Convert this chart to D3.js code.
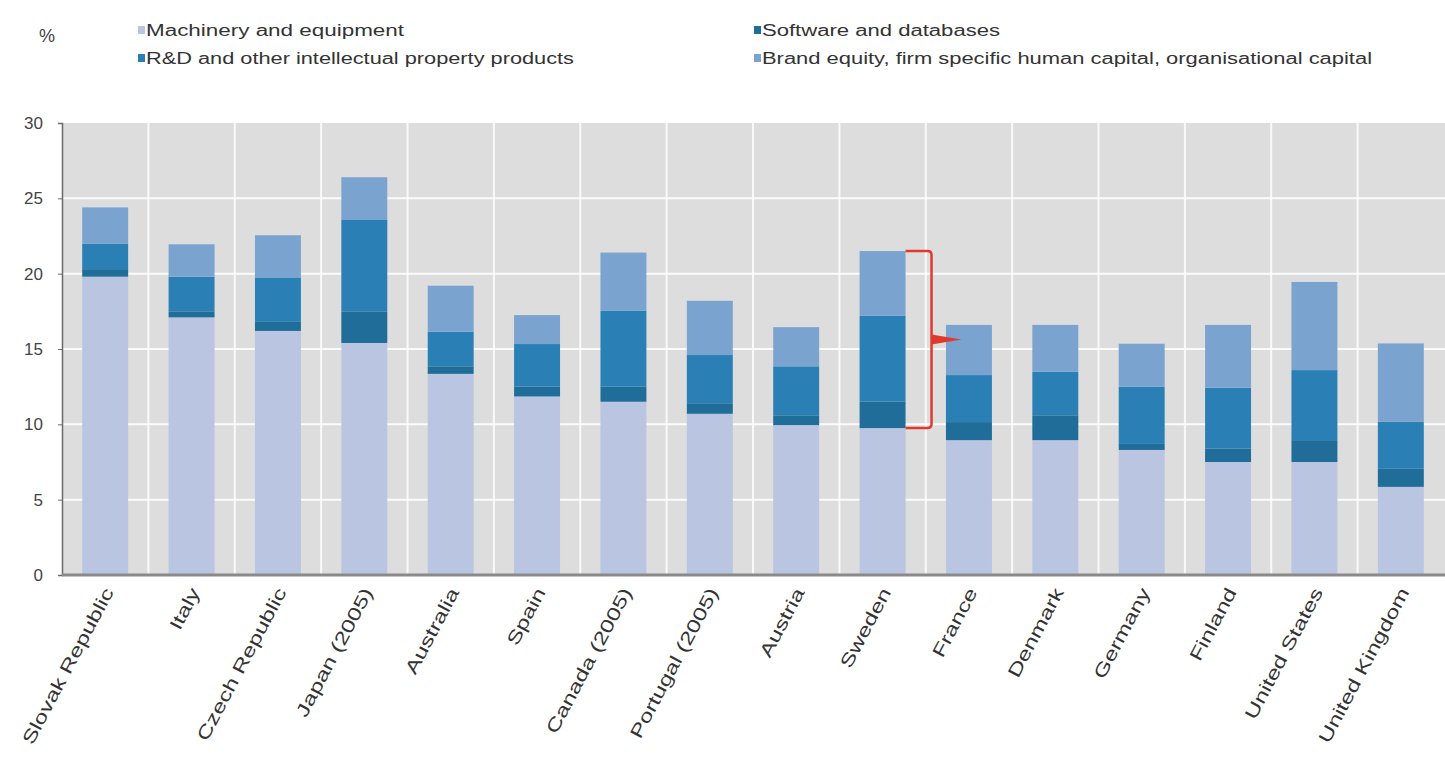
<!DOCTYPE html>
<html>
<head>
<meta charset="utf-8">
<script src="https://cdn.jsdelivr.net/npm/d3@7"></script>
<style>
  html, body { margin: 0; padding: 0; background: #ffffff; }
  svg { display: block; font-family: "Liberation Sans", Arial, sans-serif; }
</style>
</head>
<body>
<svg id="chart" width="1445" height="762"></svg>
<script>
// Investment by asset type, % of value added
const countries = ["Slovak Republic", "Italy", "Czech Republic", "Japan (2005)", "Australia", "Spain",
  "Canada (2005)", "Portugal (2005)", "Austria", "Sweden", "France", "Denmark", "Germany",
  "Finland", "United States", "United Kingdom"];
const machinery = [19.8, 17.1, 16.2, 15.4, 13.35, 11.85, 11.5, 10.7, 9.95, 9.75, 8.95, 8.95, 8.3, 7.5, 7.5, 5.85];
const software  = [0.5, 0.4, 0.6, 2.1, 0.5, 0.65, 1.0, 0.7, 0.65, 1.75, 1.2, 1.65, 0.4, 0.9, 1.45, 1.2];
const rnd       = [1.7, 2.3, 2.95, 6.1, 2.3, 2.83, 5.05, 3.2, 3.25, 5.7, 3.12, 2.9, 3.8, 4.03, 4.65, 3.12];
const brand     = [2.4, 2.15, 2.8, 2.8, 3.05, 1.92, 3.85, 3.6, 2.6, 4.3, 3.33, 3.1, 2.85, 4.17, 5.85, 5.2];
const yTicks = [0, 5, 10, 15, 20, 25, 30];

const seriesKeys = ["machinery", "software", "rnd", "brand"];
const seriesNames = {
  machinery: "Machinery and equipment",
  software: "Software and databases",
  rnd: "R&D and other intellectual property products",
  brand: "Brand equity, firm specific human capital, organisational capital"
};
const colors = {
  machinery: "#b9c5e1",
  software: "#1f6d98",
  rnd: "#2a80b4",
  brand: "#7ba3cf"
};

const rows = countries.map((c, i) => ({
  country: c, machinery: machinery[i], software: software[i], rnd: rnd[i], brand: brand[i]
}));

const svg = d3.select("#chart");
const plotL = 62, plotR = 1444, plotT = 123, plotB = 575;

const x = d3.scaleBand().domain(countries).range([plotL, plotR]).paddingInner(0.468).paddingOuter(0.234);
const xCat = d3.scaleBand().domain(countries).range([plotL, plotR]).padding(0);
const y = d3.scaleLinear().domain([0, 30]).range([plotB, plotT]);

// plot background
svg.append("rect").attr("x", plotL).attr("y", plotT).attr("width", plotR - plotL + 1).attr("height", plotB - plotT)
  .attr("fill", "#dddddd");

// white gridlines
svg.append("g").selectAll("line").data(yTicks.filter(t => t > 0 && t < 30)).join("line")
  .attr("x1", plotL).attr("x2", plotR + 1).attr("y1", d => y(d)).attr("y2", d => y(d))
  .attr("stroke", "#ffffff").attr("stroke-width", 2).attr("opacity", 0.9);
svg.append("g").selectAll("line").data(countries.slice(1)).join("line")
  .attr("x1", d => xCat(d)).attr("x2", d => xCat(d)).attr("y1", plotT).attr("y2", plotB)
  .attr("stroke", "#ffffff").attr("stroke-width", 2).attr("opacity", 0.85);

// stacked bars
const stacked = d3.stack().keys(seriesKeys)(rows);
svg.append("g").selectAll("g").data(stacked).join("g")
  .attr("fill", d => colors[d.key])
  .selectAll("rect").data(d => d).join("rect")
  .attr("x", d => x(d.data.country))
  .attr("width", x.bandwidth())
  .attr("y", d => y(d[1]))
  .attr("height", d => y(d[0]) - y(d[1]));

// axes
const yAxis = svg.append("g").attr("transform", `translate(${plotL},0)`)
  .call(d3.axisLeft(y).tickValues(yTicks).tickSize(4).tickPadding(15));
yAxis.select(".domain").attr("stroke", "#6a6a6a").attr("stroke-width", 1.5);
yAxis.selectAll(".tick line").attr("stroke", "#6a6a6a");
yAxis.selectAll(".tick text").attr("font-size", 17).attr("fill", "#444").attr("font-family", "Liberation Sans, Arial, sans-serif");

svg.append("line").attr("x1", plotL).attr("x2", plotR + 1).attr("y1", plotB).attr("y2", plotB)
  .attr("stroke", "#8a8a8a").attr("stroke-width", 3);

// category labels
svg.append("g").selectAll("text").data(countries).join("text")
  .attr("transform", d => `translate(${x(d) + x.bandwidth() / 2 + 9},${plotB + 17}) rotate(-62) scale(1.35,1)`)
  .attr("text-anchor", "end")
  .attr("font-size", 18)
  .attr("fill", "#333")
  .text(d => d);

// legend
svg.append("text").attr("x", 39).attr("y", 42).attr("font-size", 18).attr("fill", "#444").text("%");
const legendItems = [
  { key: "machinery", x: 138, y: 30, w: 266 },
  { key: "rnd", x: 138, y: 58, w: 436 },
  { key: "software", x: 754, y: 30, w: 246 },
  { key: "brand", x: 754, y: 58, w: 618 }
];
const lg = svg.append("g").selectAll("g").data(legendItems).join("g")
  .attr("transform", d => `translate(${d.x},${d.y})`);
lg.append("rect").attr("x", 0).attr("y", -4).attr("width", 7).attr("height", 8)
  .attr("fill", d => colors[d.key]);
lg.append("text").attr("x", 8).attr("y", 6).attr("font-size", 16).attr("fill", "#333")
  .attr("textLength", d => d.w - 8).attr("lengthAdjust", "spacingAndGlyphs")
  .text(d => seriesNames[d.key]);

// bracket annotation on Sweden
const si = countries.indexOf("Sweden");
const sTop = machinery[si] + software[si] + rnd[si] + brand[si];
const sBot = machinery[si];
const bx0 = x("Sweden") + x.bandwidth();
const bx1 = bx0 + 26;
const yt = y(sTop), yb = y(sBot), ym = (yt + yb) / 2;
svg.append("path")
  .attr("d", `M${bx0},${yt} L${bx1 - 4},${yt} Q${bx1},${yt} ${bx1},${yt + 4} L${bx1},${yb - 4} Q${bx1},${yb} ${bx1 - 4},${yb} L${bx0},${yb}`)
  .attr("fill", "none").attr("stroke", "#e03a2f").attr("stroke-width", 2.5);
svg.append("path")
  .attr("d", `M${bx1},${ym - 5} L${bx1 + 30},${ym} L${bx1},${ym + 5} Z`)
  .attr("fill", "#e03a2f");
</script>
</body>
</html>
